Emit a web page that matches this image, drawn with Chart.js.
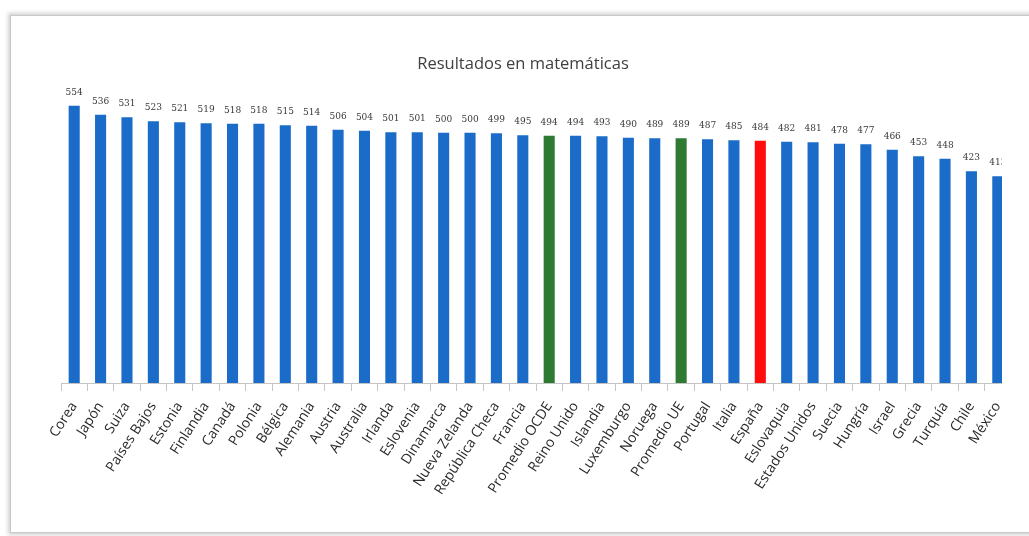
<!DOCTYPE html>
<html>
<head>
<meta charset="utf-8">
<script src="https://cdn.jsdelivr.net/npm/chart.js@4"></script>
<style>
    html, body { margin: 0; padding: 0; width: 1029px; height: 536px; overflow: hidden; background: #fff; }
    #frame {
        position: absolute; left: 10px; top: 15px; width: 1040px; height: 516px;
        border: 1px solid #c8c8c8;
        box-shadow: 0 0 4px 2px rgba(0, 0, 0, 0.18);
    }
    #chart { position: absolute; left: 0; top: 0; }
    /* the original picture is cut at both sides */
    .cut { position: absolute; top: 17px; height: 512px; background: #fff; }
</style>
</head>
<body>
<div id="frame"></div>
<canvas id="chart" width="1046" height="536"></canvas>
<div class="cut" style="left: 12px; width: 36px;"></div>
<div class="cut" style="left: 1002px; width: 27px;"></div>
<script>
// paises / promedios
const countries = [
    'Corea', 'Japón', 'Suiza', 'Países Bajos', 'Estonia', 'Finlandia', 'Canadá', 'Polonia',
    'Bélgica', 'Alemania', 'Austria', 'Australia', 'Irlanda', 'Eslovenia', 'Dinamarca',
    'Nueva Zelanda', 'República Checa', 'Francia', 'Promedio OCDE', 'Reino Unido', 'Islandia',
    'Luxemburgo', 'Noruega', 'Promedio UE', 'Portugal', 'Italia', 'España', 'Eslovaquia',
    'Estados Unidos', 'Suecia', 'Hungría', 'Israel', 'Grecia', 'Turquía', 'Chile', 'México',
];
// puntuacion en matematicas
const scores = [
    554, 536, 531, 523, 521, 519, 518, 518, 515, 514, 506, 504, 501, 501, 500,
    500, 499, 495, 494, 494, 493, 490, 489, 489, 487, 485, 484, 482,
    481, 478, 477, 466, 453, 448, 423, 413,
];
const averages = ['Promedio OCDE', 'Promedio UE'];
const highlight = 'España';

const barColors = countries.map(c => {
    if (averages.includes(c)) return '#2e7a32';
    if (c === highlight) return '#ff0d0d';
    return '#1a6cc8';
});

// etiquetas de valor encima de cada barra
const valueLabels = {
    id: 'valueLabels',
    afterLayout(chart) {
        // centrar el titulo en todo el lienzo
        chart.titleBlock.left = 0;
        chart.titleBlock.right = chart.width;
    },
    afterDatasetsDraw(chart) {
        const ctx = chart.ctx;
        const meta = chart.getDatasetMeta(0);
        ctx.save();
        ctx.font = '9px "DejaVu Serif"';
        ctx.fillStyle = '#3a3a3a';
        ctx.textAlign = 'center';
        ctx.textBaseline = 'bottom';
        meta.data.forEach((bar, i) => {
            ctx.fillText(scores[i], bar.x, bar.y - 9);
        });
        ctx.restore();
    },
};

new Chart(document.querySelector('#chart'), {
    type: 'bar',
    data: {
        labels: countries,
        datasets: [
            {
                data: scores,
                backgroundColor: barColors,
                categoryPercentage: 1,
                barPercentage: 0.42,
            },
        ],
    },
    options: {
        responsive: false,
        animation: false,
        layout: { padding: { left: 61, right: 35, top: 0, bottom: 0 } },
        plugins: {
            legend: { display: false },
            tooltip: { enabled: false },
            title: {
                display: true,
                text: 'Resultados en matemáticas',
                color: '#404040',
                font: { family: 'Open Sans', size: 16.5, weight: 'normal' },
                padding: { top: 54, bottom: 9 },
            },
        },
        scales: {
            y: { display: false, min: 0, max: 600 },
            x: {
                afterFit: scale => { scale.height = 536 - 383; },
                border: { color: '#c4c4c4', width: 1 },
                grid: { display: true, drawOnChartArea: false, tickLength: 8, color: '#c4c4c4', offset: true },
                ticks: {
                    color: '#2a2a2a',
                    font: { family: 'Open Sans', size: 14 },
                    minRotation: 57,
                    maxRotation: 57,
                    autoSkip: false,
                    padding: 8,
                },
            },
        },
    },
    plugins: [valueLabels],
});
</script>
</body>
</html>
